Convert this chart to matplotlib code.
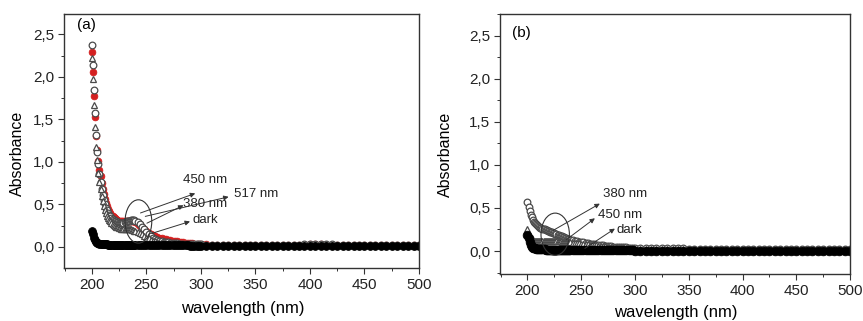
import matplotlib
matplotlib.use("Agg")
import matplotlib.pyplot as plt
from matplotlib.patches import Ellipse
from matplotlib.ticker import MultipleLocator, FuncFormatter

plt.rcParams['font.family'] = ['Liberation Sans', 'DejaVu Sans']

# wavelength grid (nm)
wl = list(range(200, 241)) + list(range(242, 301, 2)) + list(range(305, 501, 5))

# ---- panel (a) ----
a_450 = [2.37, 2.14, 1.85, 1.57, 1.32, 1.12, 0.98, 0.86, 0.76, 0.68,
         0.61, 0.55, 0.50, 0.46, 0.43, 0.40, 0.38, 0.36, 0.34, 0.33,
         0.32, 0.31, 0.30, 0.29, 0.29, 0.28, 0.28, 0.28, 0.28, 0.28,
         0.29, 0.29, 0.30, 0.30, 0.31, 0.31, 0.32, 0.32, 0.32, 0.32,
         0.31,
         0.29, 0.27, 0.24, 0.21, 0.18, 0.15, 0.13, 0.11, 0.095, 0.085,
         0.075, 0.068, 0.062, 0.057, 0.053, 0.050, 0.047, 0.045, 0.043, 0.041,
         0.039, 0.037, 0.036, 0.035, 0.034, 0.033, 0.032, 0.031, 0.030, 0.030,
         0.029, 0.028, 0.028, 0.027, 0.027, 0.026, 0.026, 0.025, 0.025, 0.025,
         0.024, 0.024, 0.024, 0.023, 0.023, 0.023, 0.024, 0.026, 0.030, 0.034,
         0.036, 0.036, 0.034, 0.030, 0.027, 0.025, 0.024, 0.023, 0.023, 0.022,
         0.022, 0.022, 0.021, 0.021, 0.021, 0.020, 0.020, 0.020, 0.020, 0.019]

a_517 = [2.29, 2.06, 1.77, 1.53, 1.30, 1.14, 1.01, 0.91, 0.83, 0.75,
         0.68, 0.62, 0.57, 0.52, 0.48, 0.45, 0.42, 0.40, 0.38, 0.36,
         0.35, 0.34, 0.33, 0.32, 0.31, 0.31, 0.30, 0.30, 0.30, 0.30,
         0.30, 0.30, 0.31, 0.31, 0.31, 0.31, 0.31, 0.31, 0.30, 0.30,
         0.29,
         0.27, 0.25, 0.23, 0.21, 0.19, 0.17, 0.155, 0.14, 0.13, 0.12,
         0.11, 0.10, 0.095, 0.090, 0.085, 0.080, 0.075, 0.070, 0.066, 0.062,
         0.058, 0.055, 0.052, 0.049, 0.046, 0.043, 0.041, 0.039, 0.037, 0.035,
         0.032, 0.029, 0.027, 0.026, 0.025, 0.024, 0.024, 0.023, 0.023, 0.022,
         0.022, 0.022, 0.021, 0.021, 0.021, 0.021, 0.022, 0.024, 0.027, 0.030,
         0.032, 0.031, 0.029, 0.026, 0.024, 0.022, 0.021, 0.021, 0.020, 0.020,
         0.020, 0.019, 0.019, 0.019, 0.019, 0.018, 0.018, 0.018, 0.018, 0.018]

a_380 = [2.22, 1.98, 1.67, 1.41, 1.18, 1.02, 0.87, 0.77, 0.68, 0.60,
         0.54, 0.48, 0.44, 0.40, 0.37, 0.34, 0.32, 0.30, 0.28, 0.27,
         0.26, 0.25, 0.24, 0.23, 0.23, 0.22, 0.22, 0.21, 0.21, 0.21,
         0.21, 0.21, 0.21, 0.21, 0.21, 0.21, 0.21, 0.20, 0.20, 0.19,
         0.19,
         0.18, 0.16, 0.15, 0.13, 0.11, 0.10, 0.085, 0.075, 0.065, 0.058,
         0.052, 0.047, 0.043, 0.040, 0.038, 0.036, 0.035, 0.034, 0.033, 0.032,
         0.031, 0.030, 0.030, 0.029, 0.029, 0.028, 0.028, 0.027, 0.027, 0.027,
         0.026, 0.026, 0.025, 0.025, 0.024, 0.024, 0.023, 0.023, 0.023, 0.022,
         0.022, 0.022, 0.021, 0.021, 0.021, 0.021, 0.022, 0.024, 0.028, 0.032,
         0.034, 0.033, 0.030, 0.027, 0.024, 0.022, 0.021, 0.021, 0.020, 0.020,
         0.020, 0.019, 0.019, 0.019, 0.018, 0.018, 0.018, 0.018, 0.017, 0.017]

a_dark = [0.19, 0.15, 0.11, 0.08, 0.06, 0.05, 0.045, 0.040, 0.037, 0.035,
          0.033, 0.032, 0.031, 0.030, 0.030, 0.029, 0.029, 0.028, 0.028, 0.028,
          0.027, 0.027, 0.027, 0.026, 0.026, 0.026, 0.026, 0.025, 0.025, 0.025,
          0.025, 0.025, 0.024, 0.024, 0.024, 0.024, 0.024, 0.023, 0.023, 0.023,
          0.023,
          0.023, 0.022, 0.022, 0.022, 0.022, 0.021, 0.021, 0.021, 0.021, 0.020,
          0.020, 0.020, 0.020, 0.020, 0.019, 0.019, 0.019, 0.019, 0.019, 0.018,
          0.018, 0.018, 0.018, 0.018, 0.017, 0.017, 0.017, 0.017, 0.017, 0.016,
          0.016, 0.016, 0.016, 0.015, 0.015, 0.015, 0.015, 0.015, 0.014, 0.014,
          0.014, 0.014, 0.014, 0.014, 0.013, 0.013, 0.013, 0.013, 0.013, 0.013,
          0.013, 0.013, 0.012, 0.012, 0.012, 0.012, 0.012, 0.012, 0.012, 0.011,
          0.011, 0.011, 0.011, 0.011, 0.011, 0.011, 0.010, 0.010, 0.010, 0.010]

# ---- panel (b) ----
b_380 = [0.57, 0.51, 0.46, 0.42, 0.39, 0.36, 0.34, 0.33, 0.31, 0.30,
         0.29, 0.28, 0.27, 0.265, 0.26, 0.255, 0.25, 0.245, 0.24, 0.235,
         0.23, 0.225, 0.22, 0.215, 0.21, 0.205, 0.20, 0.195, 0.19, 0.185,
         0.18, 0.175, 0.17, 0.165, 0.16, 0.155, 0.15, 0.145, 0.14, 0.135,
         0.13,
         0.125, 0.12, 0.115, 0.11, 0.105, 0.10, 0.095, 0.090, 0.086, 0.082,
         0.078, 0.074, 0.070, 0.067, 0.064, 0.061, 0.058, 0.056, 0.054, 0.052,
         0.050, 0.048, 0.046, 0.044, 0.042, 0.041, 0.040, 0.039, 0.038, 0.037,
         0.036, 0.035, 0.034, 0.033, 0.032, 0.031, 0.031, 0.030, 0.030, 0.029,
         0.029, 0.028, 0.028, 0.028, 0.027, 0.027, 0.027, 0.026, 0.026, 0.026,
         0.026, 0.025, 0.025, 0.025, 0.025, 0.025, 0.024, 0.024, 0.024, 0.024,
         0.024, 0.024, 0.023, 0.023, 0.023, 0.023, 0.023, 0.023, 0.023, 0.023]

b_450 = [0.26, 0.20, 0.16, 0.14, 0.13, 0.125, 0.12, 0.12, 0.12, 0.12,
         0.12, 0.12, 0.12, 0.12, 0.12, 0.12, 0.12, 0.12, 0.12, 0.12,
         0.12, 0.12, 0.12, 0.12, 0.12, 0.12, 0.12, 0.115, 0.115, 0.115,
         0.115, 0.115, 0.11, 0.11, 0.11, 0.11, 0.11, 0.105, 0.105, 0.105,
         0.10,
         0.098, 0.095, 0.092, 0.089, 0.086, 0.083, 0.080, 0.077, 0.074, 0.071,
         0.068, 0.065, 0.062, 0.059, 0.056, 0.053, 0.050, 0.048, 0.046, 0.044,
         0.042, 0.040, 0.038, 0.036, 0.034, 0.033, 0.032, 0.031, 0.030, 0.029,
         0.028, 0.027, 0.026, 0.025, 0.024, 0.023, 0.022, 0.021, 0.020, 0.020,
         0.019, 0.019, 0.018, 0.018, 0.017, 0.017, 0.016, 0.016, 0.016, 0.015,
         0.015, 0.015, 0.014, 0.014, 0.014, 0.014, 0.013, 0.013, 0.013, 0.013,
         0.012, 0.012, 0.012, 0.012, 0.012, 0.011, 0.011, 0.011, 0.011, 0.011]

b_dark = [0.19, 0.15, 0.10, 0.07, 0.05, 0.04, 0.035, 0.030, 0.027, 0.025,
          0.023, 0.022, 0.021, 0.020, 0.019, 0.018, 0.018, 0.017, 0.017, 0.016,
          0.016, 0.015, 0.015, 0.015, 0.014, 0.014, 0.014, 0.013, 0.013, 0.013,
          0.013, 0.012, 0.012, 0.012, 0.012, 0.011, 0.011, 0.011, 0.011, 0.010,
          0.010,
          0.010, 0.010, 0.009, 0.009, 0.009, 0.009, 0.009, 0.008, 0.008, 0.008,
          0.008, 0.008, 0.008, 0.007, 0.007, 0.007, 0.007, 0.007, 0.007, 0.007,
          0.006, 0.006, 0.006, 0.006, 0.006, 0.006, 0.006, 0.006, 0.006, 0.005,
          0.005, 0.005, 0.005, 0.005, 0.005, 0.005, 0.005, 0.005, 0.005, 0.005,
          0.004, 0.004, 0.004, 0.004, 0.004, 0.004, 0.004, 0.004, 0.004, 0.004,
          0.003, 0.003, 0.003, 0.003, 0.003, 0.003, 0.003, 0.003, 0.003, 0.003,
          0.002, 0.002, 0.002, 0.002, 0.002, 0.002, 0.002, 0.002, 0.002, 0.002]

yticks = [0.0, 0.5, 1.0, 1.5, 2.0, 2.5]
xticks = [200, 250, 300, 350, 400, 450, 500]

GRAY = '#4a4a4a'
RED = '#d42020'
AX = '#333333'

fig = plt.figure(figsize=(8.63, 3.21), dpi=100)
ax_a = fig.add_axes([0.0742, 0.1651, 0.4113, 0.7913])
ax_b = fig.add_axes([0.5794, 0.1464, 0.4056, 0.8100])


def style(ax, ylim):
    ax.set_xlim(174.5, 500)
    ax.set_ylim(*ylim)
    ax.set_xticks(xticks)
    ax.set_yticks(yticks)
    ax.xaxis.set_minor_locator(MultipleLocator(25))
    ax.yaxis.set_minor_locator(MultipleLocator(0.25))
    ax.yaxis.set_major_formatter(FuncFormatter(lambda v, p: f"{v:.1f}".replace('.', ',')))
    ax.tick_params(which='major', direction='out', length=4, width=0.8, color=AX,
                   labelsize=11, labelcolor='#222222', pad=3)
    ax.tick_params(which='minor', direction='out', length=2, width=0.7, color=AX)
    for s in ax.spines.values():
        s.set_color(AX)
        s.set_linewidth(1.0)


def curves(ax, series):
    for y, kw in series:
        ax.plot(wl, y, linestyle='none', **kw)


circ = dict(marker='o', ms=4.8, mfc='white', mec=GRAY, mew=0.9)
tri = dict(marker='^', ms=5.0, mfc='white', mec=GRAY, mew=0.9)
redk = dict(marker='o', ms=4.8, mfc=RED, mec=RED, mew=0.6)
dark_a = dict(marker='o', ms=5.6, mfc='black', mec='black', mew=0.6)
dark_b = dict(marker='o', ms=6.2, mfc='black', mec='black', mew=0.6)

# (a)
style(ax_a, (-0.247, 2.74))
curves(ax_a, [(a_517, redk), (a_450, circ), (a_380, tri), (a_dark, dark_a)])
ax_a.add_patch(Ellipse((242.7, 0.30), 24.5, 0.51, fill=False, ec=AX, lw=0.8, zorder=6))
arr = dict(arrowstyle='-|>', lw=0.7, color=AX, mutation_scale=7, shrinkA=0, shrinkB=0)
for start, end in [((244.6, 0.40), (294.8, 0.63)), ((249, 0.36), (325.4, 0.59)),
                   ((250.5, 0.28), (284, 0.49)), ((255, 0.16), (290, 0.30))]:
    ax_a.annotate('', xy=end, xytext=start, arrowprops=arr, zorder=6)
tk = dict(fontsize=9.5, va='center', ha='left', color='#222222')
ax_a.text(284, 0.79, '450 nm', **tk)
ax_a.text(330, 0.62, '517 nm', **tk)
ax_a.text(284, 0.51, '380 nm', **tk)
ax_a.text(292.5, 0.32, 'dark', **tk)
ax_a.text(0.036, 0.957, '(a)', transform=ax_a.transAxes, fontsize=11, va='center', ha='left')
ax_a.set_xlabel('wavelength (nm)', fontsize=12)
ax_a.set_ylabel('Absorbance', fontsize=11.5)
ax_a.xaxis.set_label_coords(0.503, -0.13)
ax_a.yaxis.set_label_coords(-0.11, 0.451)

# (b)
style(ax_b, (-0.267, 2.752))
curves(ax_b, [(b_380, circ), (b_450, tri), (b_dark, dark_b)])
ax_b.add_patch(Ellipse((225.8, 0.195), 26.4, 0.49, fill=False, ec=AX, lw=0.8, zorder=6))
for start, end in [((224, 0.24), (267.3, 0.55)), ((236, 0.13), (262.7, 0.38)),
                   ((253.4, 0.03), (281.3, 0.26))]:
    ax_b.annotate('', xy=end, xytext=start, arrowprops=arr, zorder=6)
ax_b.text(270.4, 0.66, '380 nm', **tk)
ax_b.text(265.7, 0.42, '450 nm', **tk)
ax_b.text(282.8, 0.245, 'dark', **tk)
ax_b.text(0.033, 0.926, '(b)', transform=ax_b.transAxes, fontsize=11, va='center', ha='left')
ax_b.set_xlabel('wavelength (nm)', fontsize=12)
ax_b.set_ylabel('Absorbance', fontsize=11.5)
ax_b.xaxis.set_label_coords(0.502, -0.12)
ax_b.yaxis.set_label_coords(-0.135, 0.4615)

fig.savefig('out.png', dpi=100)
